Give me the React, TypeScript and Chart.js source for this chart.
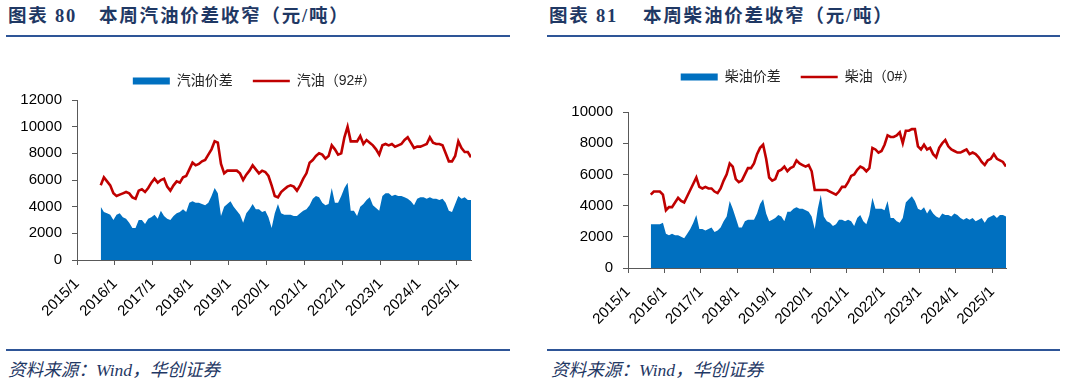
import React, { useEffect, useRef } from "react";
import { Chart, registerables } from "chart.js";

Chart.register(...registerables);

// ---------------- DATA ----------------
const months = [
  "2015-08", "2015-09", "2015-10", "2015-11", "2015-12",
  "2016-01", "2016-02", "2016-03", "2016-04", "2016-05", "2016-06", "2016-07", "2016-08", "2016-09", "2016-10", "2016-11", "2016-12",
  "2017-01", "2017-02", "2017-03", "2017-04", "2017-05", "2017-06", "2017-07", "2017-08", "2017-09", "2017-10", "2017-11", "2017-12",
  "2018-01", "2018-02", "2018-03", "2018-04", "2018-05", "2018-06", "2018-07", "2018-08", "2018-09", "2018-10", "2018-11", "2018-12",
  "2019-01", "2019-02", "2019-03", "2019-04", "2019-05", "2019-06", "2019-07", "2019-08", "2019-09", "2019-10", "2019-11", "2019-12",
  "2020-01", "2020-02", "2020-03", "2020-04", "2020-05", "2020-06", "2020-07", "2020-08", "2020-09", "2020-10", "2020-11", "2020-12",
  "2021-01", "2021-02", "2021-03", "2021-04", "2021-05", "2021-06", "2021-07", "2021-08", "2021-09", "2021-10", "2021-11", "2021-12",
  "2022-01", "2022-02", "2022-03", "2022-04", "2022-05", "2022-06", "2022-07", "2022-08", "2022-09", "2022-10", "2022-11", "2022-12",
  "2023-01", "2023-02", "2023-03", "2023-04", "2023-05", "2023-06", "2023-07", "2023-08", "2023-09", "2023-10", "2023-11", "2023-12",
  "2024-01", "2024-02", "2024-03", "2024-04", "2024-05", "2024-06", "2024-07", "2024-08", "2024-09", "2024-10", "2024-11", "2024-12",
  "2025-01", "2025-02", "2025-03", "2025-04", "2025-05",
];

const gasSpread = [
  4000, 3600, 3500, 3400, 3000,
  3400, 3500, 3200, 3100, 2800, 2400, 2400, 3000, 3000, 2700, 3100, 3200,
  3400, 3100, 3700, 3300, 3100, 3000, 3300, 3500, 3600, 3800, 3600, 4300,
  4400, 4300, 4300, 4200, 4100, 4300, 4800, 5400, 5000, 3300, 4000, 4200,
  4400, 4000, 3700, 3400, 2800, 3500, 3800, 4200, 3800, 3800, 3600, 3700,
  3200, 2400, 3500, 4200, 3500, 3400, 3400, 3400, 3300, 3300, 3500, 3700,
  3800, 4100, 4600, 4800, 4700, 4300, 4100, 4200, 5400, 4300, 4300, 4800,
  5400, 5800, 3700, 3700, 3300, 4000, 4200, 4500, 4700, 4100, 3900, 3700,
  4800, 5000, 5000, 4800, 4900, 4800, 4800, 4700, 4600, 4400, 4100, 4600,
  4700, 4700, 4600, 4700, 4600, 4600, 4500, 4600, 4300, 3700, 3600, 4200,
  4800, 4600, 4700, 4500, 4500,
];

const gasPrice = [
  5600, 6200, 5900, 5600, 5000,
  4800, 4900, 5000, 5100, 5000, 4700, 4600, 5200, 5300, 5100, 5400, 5800,
  6100, 5800, 6000, 6100, 5500, 5200, 5600, 5900, 5800, 6200, 6300, 6800,
  7300, 7100, 7200, 7400, 7500, 7900, 8300, 8900, 8800, 7200, 6500, 6700,
  6700, 6700, 6700, 6500, 6000, 6400, 6700, 7100, 6800, 6500, 6700, 6600,
  6300, 5600, 4800, 4700, 5100, 5300, 5500, 5600, 5500, 5200, 5600, 6100,
  6500, 7300, 7500, 7800, 8000, 7900, 7600, 7800, 8600, 8300, 7900, 8000,
  9200, 10000, 8900, 8900, 8900, 9300, 8700, 9000, 8800, 8600, 8300, 7900,
  8600, 8700, 8600, 8700, 8500, 8600, 8700, 9000, 9200, 8800, 8400, 8500,
  8500, 8600, 8700, 9200, 8800, 8700, 8700, 8600, 8000, 7400, 7400, 7800,
  8900, 8400, 8100, 8100, 7700,
];

const dieselSpread = [
  2800, 2800, 2800, 2800, 2900,
  2200, 2100, 2200, 2100, 2100, 2000, 1900, 2200, 2500, 2900, 3400, 2500,
  2500, 2400, 2500, 2600, 2300, 2400, 2600, 3000, 3300, 4300, 3800, 3200,
  2600, 2600, 3000, 3100, 3100, 3100, 3500, 4100, 4400, 3500, 3000, 3100,
  3200, 3400, 3300, 3000, 3600, 3600, 3800, 3900, 3800, 3800, 3700, 3600,
  3300, 2500, 3800, 4700, 3300, 3000, 2900, 2700, 2800, 3100, 3100, 3000,
  3100, 3000, 2700, 3200, 3400, 3000, 2800, 3400, 4500, 3800, 3800, 3800,
  3700, 4300, 3200, 3200, 3000, 2900, 3200, 4200, 4400, 4600, 4300, 3800,
  3700, 3900, 3500, 3800, 3500, 3300, 3200, 3500, 3400, 3400, 3300, 3500,
  3400, 3200, 3100, 3200, 3100, 3200, 3000, 3100, 3200, 2900, 3200, 3300,
  3400, 3200, 3400, 3400, 3300,
];

const dieselPrice = [
  4700, 4900, 4900, 4900, 4700,
  3700, 3900, 3900, 4200, 4500, 4300, 4200, 4600, 5000, 5400, 5800, 5200,
  5100, 5200, 5100, 5100, 4900, 4800, 5100, 5600, 6000, 6700, 6500, 5700,
  5500, 5600, 6000, 6400, 6400, 6700, 7300, 7700, 7900, 7000, 5800, 5600,
  5700, 6200, 6300, 6500, 6200, 6400, 6500, 6900, 6700, 6600, 6500, 6600,
  6200, 5000, 5000, 5000, 5000, 5000, 4900, 4800, 4700, 4900, 5200, 5200,
  5500, 5900, 6000, 6300, 6500, 6400, 6200, 6400, 7700, 7600, 7400, 7500,
  7900, 8500, 8400, 8400, 8500, 8700, 8000, 8800, 8800, 8900, 8900, 7800,
  7600, 7900, 7600, 7700, 7300, 7100, 7700, 8000, 8200, 7800, 7600, 7500,
  7400, 7400, 7500, 7600, 7300, 7400, 7300, 7100, 6800, 6600, 6900, 7000,
  7300, 7000, 6900, 6800, 6500,
];

const xAxisStartYear = 2015;
const gasYMax = 12000;
const dieselYMax = 10000;
const yStep = 2000;

// ---------------- STYLE ----------------
const BLUE = "#0070C0";
const RED = "#C00000";
const AXIS = "#595959";
const NAVY = "#1F3864";
const RULE = "#2E5597";
const TICK_FONT = "'Liberation Sans', Arial, 'Noto Sans CJK SC', sans-serif";
const CJK_FONT = "'Liberation Sans', 'Noto Sans CJK SC', sans-serif";

function toYear(m: string): number {
  const [y, mo] = m.split("-").map(Number);
  return y + (mo - 0.5) / 12;
}

type PanelCfg = {
  spread: number[];
  price: number[];
  spreadLabel: string;
  priceLabel: string;
  yMax: number;
  yWidth: number;
  padRight: number;
  padTop: number;
  spacer: number;
  xHeight: number;
  legendShift: number;
};

// moves the legend horizontally after layout (the chart area itself is untouched)
const legendShiftPlugin = {
  id: "legendShift",
  afterLayout(chart: any, _args: any, opts: any) {
    const dx = (opts && opts.dx) || 0;
    if (chart.legend && dx) {
      chart.legend.left += dx;
      chart.legend.right += dx;
    }
  },
};

function buildConfig(c: PanelCfg): any {
  const xs = months.map(toYear);
  return {
    type: "line",
    data: {
      datasets: [
        {
          label: c.spreadLabel,
          data: xs.map((x, i) => ({ x, y: c.spread[i] })),
          fill: "origin",
          backgroundColor: BLUE,
          borderColor: BLUE,
          borderWidth: 0,
          pointRadius: 0,
          tension: 0,
        },
        {
          label: c.priceLabel,
          data: xs.map((x, i) => ({ x, y: c.price[i] })),
          fill: false,
          backgroundColor: RED,
          borderColor: RED,
          borderWidth: 2.6,
          pointRadius: 0,
          tension: 0,
        },
      ],
    },
    plugins: [legendShiftPlugin],
    options: {
      animation: false,
      responsive: false,
      maintainAspectRatio: false,
      events: [],
      layout: { padding: { top: c.padTop, left: 0, right: c.padRight, bottom: 0 } },
      plugins: {
        tooltip: { enabled: false },
        legendShift: { dx: c.legendShift },
        legend: {
          display: true,
          position: "top",
          weight: 1000,
          labels: {
            usePointStyle: true,
            pointStyleWidth: 37,
            boxHeight: 7,
            padding: 20,
            color: "#262626",
            font: { family: CJK_FONT, size: 14 },
            generateLabels: (chart: any) => {
              const items = (Chart as any).defaults.plugins.legend.labels.generateLabels(chart);
              items.forEach((it: any) => {
                if (it.datasetIndex === 0) {
                  it.pointStyle = "rect";
                  it.lineWidth = 0;
                  it.fillStyle = BLUE;
                } else {
                  it.pointStyle = "line";
                  it.lineWidth = 2.6;
                  it.strokeStyle = RED;
                  it.fillStyle = RED;
                }
              });
              return items;
            },
          },
        },
        subtitle: {
          display: true,
          text: " ",
          weight: 500,
          font: { size: 1, lineHeight: 1 },
          padding: { top: 0, bottom: c.spacer },
        },
      },
      scales: {
        x: {
          type: "linear",
          min: xAxisStartYear,
          max: xs[xs.length - 1],
          afterFit: (s: any) => {
            s.height = c.xHeight;
          },
          grid: { display: true, drawOnChartArea: false, drawTicks: true, tickLength: 5, color: AXIS },
          border: { display: true, color: AXIS, width: 1 },
          ticks: {
            stepSize: 1,
            includeBounds: false,
            autoSkip: false,
            maxRotation: 45,
            minRotation: 45,
            padding: 10,
            color: "#000",
            font: { family: TICK_FONT, size: 15 },
            callback: (v: any) => (Number.isInteger(v) ? `${v}/1` : ""),
          },
        },
        y: {
          min: 0,
          max: c.yMax,
          afterFit: (s: any) => {
            s.width = c.yWidth;
          },
          grid: { display: true, drawOnChartArea: false, drawTicks: true, tickLength: 5, color: AXIS },
          border: { display: true, color: AXIS, width: 1 },
          ticks: {
            stepSize: yStep,
            padding: 10,
            color: "#000",
            font: { family: TICK_FONT, size: 15 },
            callback: (v: any) => String(v),
          },
        },
      },
    },
  };
}

function Panel(props: { cfg: PanelCfg; left: number }) {
  const ref = useRef<HTMLCanvasElement | null>(null);
  useEffect(() => {
    if (!ref.current) return;
    const chart = new Chart(ref.current, buildConfig(props.cfg));
    return () => chart.destroy();
  }, []);
  return (
    <canvas
      ref={ref}
      width={533}
      height={300}
      style={{ position: "absolute", left: props.left, top: 40, width: 533, height: 300 }}
    />
  );
}

function Header(props: { left: number; ruleLeft: number; ruleWidth: number; num: string; title: string; titleX: number }) {
  const base: React.CSSProperties = {
    position: "absolute",
    top: 6,
    fontSize: 18.5,
    lineHeight: "21px",
    fontWeight: 700,
    color: NAVY,
    letterSpacing: 1.8,
    whiteSpace: "nowrap",
    fontFamily: "'Liberation Serif', 'Noto Sans CJK SC', serif",
  };
  return (
    <>
      <div style={{ ...base, left: props.left }}>图表 {props.num}</div>
      <div style={{ ...base, left: props.titleX }}>{props.title}</div>
      <div style={{ position: "absolute", left: props.ruleLeft, top: 35, width: props.ruleWidth, height: 2, background: RULE }} />
    </>
  );
}

function Footer(props: { left: number; ruleLeft: number; ruleWidth: number }) {
  return (
    <>
      <div style={{ position: "absolute", left: props.ruleLeft, top: 349, width: props.ruleWidth, height: 2, background: RULE }} />
      <div
        style={{
          position: "absolute",
          left: props.left,
          top: 360,
          fontSize: 17.6,
          lineHeight: "21px",
          fontStyle: "italic",
          color: NAVY,
          whiteSpace: "nowrap",
          fontFamily: "'Liberation Serif', 'Noto Sans CJK SC', serif",
        }}
      >
        资料来源：Wind，华创证券
      </div>
    </>
  );
}

const leftCfg: PanelCfg = {
  spread: gasSpread,
  price: gasPrice,
  spreadLabel: "汽油价差",
  priceLabel: "汽油（92#）",
  yMax: gasYMax,
  yWidth: 77,
  padRight: 62,
  padTop: 14,
  spacer: 1,
  xHeight: 80,
  legendShift: 19,
};

const rightCfg: PanelCfg = {
  spread: dieselSpread,
  price: dieselPrice,
  spreadLabel: "柴油价差",
  priceLabel: "柴油（0#）",
  yMax: dieselYMax,
  yWidth: 95,
  padRight: 60,
  padTop: 10,
  spacer: 17,
  xHeight: 72,
  legendShift: 29,
};

export default function App() {
  return (
    <div style={{ position: "absolute", left: 0, top: 0, width: 1066, height: 385, background: "#fff", overflow: "hidden" }}>
      <Header left={8} ruleLeft={6} ruleWidth={504} num="80" title="本周汽油价差收窄（元/吨）" titleX={99} />
      <Header left={549} ruleLeft={547} ruleWidth={513} num="81" title="本周柴油价差收窄（元/吨）" titleX={643} />
      <Panel cfg={leftCfg} left={0} />
      <Panel cfg={rightCfg} left={533} />
      <Footer left={8} ruleLeft={6} ruleWidth={504} />
      <Footer left={551} ruleLeft={547} ruleWidth={513} />
    </div>
  );
}
